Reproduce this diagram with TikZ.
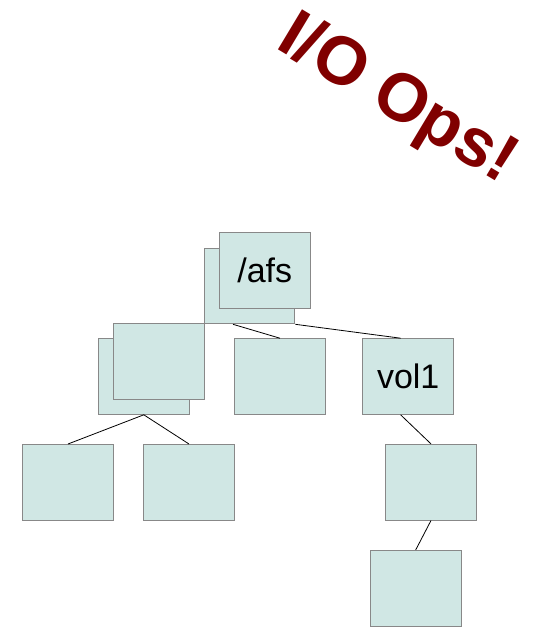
\documentclass[tikz,border=0pt]{standalone}
\usepackage{fontspec}
\setmainfont{Liberation Sans}
\usetikzlibrary{calc}
\definecolor{boxfill}{HTML}{D0E7E4}
\definecolor{boxline}{HTML}{888888}
\definecolor{titlered}{HTML}{800000}
\begin{document}
\begin{tikzpicture}[x=1pt,y=-1pt,
  treebox/.style={draw=boxline,line width=0.9pt,fill=boxfill,minimum width=90.7pt,minimum height=75.7pt,inner sep=0pt,font=\fontsize{34}{38}\selectfont},
  link/.style={draw=black,line width=0.8pt}]
\useasboundingbox (0,0) rectangle (539,634);
\node[treebox] (afsback) at (249.5,286) {};
\node[treebox] (afs) at (264.7,270.5) {/afs};
\node[treebox] (lback) at (143.8,376.5) {};
\node[treebox] (lfront) at (158.7,361.5) {};
\node[treebox] (mid) at (279.9,376.5) {};
\node[treebox] (vol1) at (408.2,376.5) {vol1};
\node[treebox] (ll) at (68,482.3) {};
\node[treebox] (lm) at (189,482.3) {};
\node[treebox] (r1) at (431,482.2) {};
\node[treebox] (r2) at (415.7,588.2) {};
\node[text=titlered,font=\fontsize{68}{72}\bfseries\selectfont,rotate=-31] (title) at (397,101) {I/O Ops!};
\draw[link] ($(afsback.south west)!0.32!(afsback.south east)$) -- (mid.north);
\draw[link] (afsback.south east) -- ($(vol1.north west)!0.417!(vol1.north east)$);
\draw[link] (lback.south) -- (ll.north);
\draw[link] (lback.south) -- (lm.north);
\draw[link] ($(vol1.south west)!0.417!(vol1.south east)$) -- (r1.north);
\draw[link] (r1.south) -- (r2.north);
\end{tikzpicture}
\end{document}
